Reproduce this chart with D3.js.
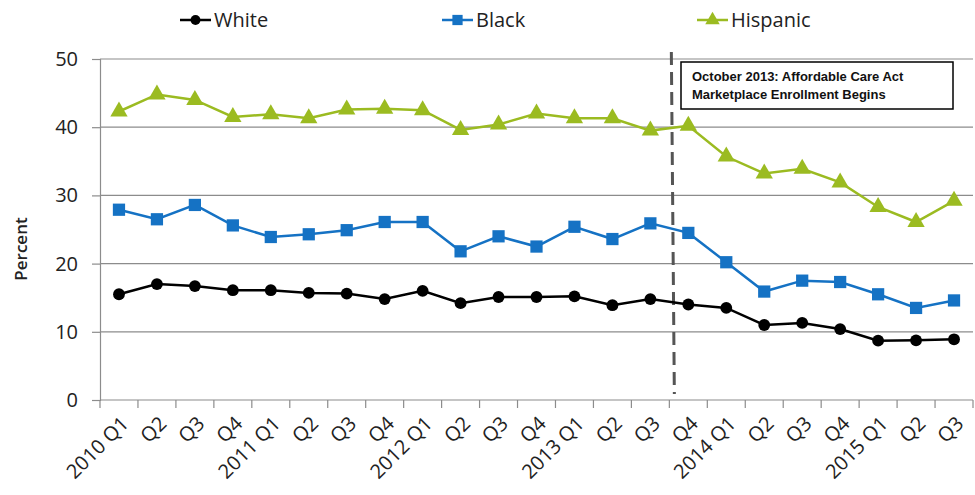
<!DOCTYPE html>
<html>
<head>
<meta charset="utf-8">
<script src="https://cdn.jsdelivr.net/npm/d3@7"></script>
<style>
  body { margin: 0; background: #fff; }
  svg { display: block; font-family: "Open Sans", "Noto Sans", sans-serif; }
</style>
</head>
<body>
<svg width="975" height="495"></svg>
<script>
// quarters, 2010 Q1 .. 2015 Q3
const quarters = [
  '2010 Q1', 'Q2', 'Q3', 'Q4',
  '2011 Q1', 'Q2', 'Q3', 'Q4',
  '2012 Q1', 'Q2', 'Q3', 'Q4',
  '2013 Q1', 'Q2', 'Q3', 'Q4',
  '2014 Q1', 'Q2', 'Q3', 'Q4',
  '2015 Q1', 'Q2', 'Q3'
];

const white = [15.5, 17.0, 16.7, 16.1, 16.1, 15.7, 15.6, 14.8, 16.0, 14.2, 15.1, 15.1,
  15.2, 13.9, 14.8, 14.0, 13.5, 11.0, 11.3, 10.4, 8.7, 8.75, 8.9];
const black = [27.9, 26.5, 28.6, 25.6, 23.9, 24.3, 24.9, 26.1, 26.1, 21.8, 24.0, 22.5,
  25.4, 23.6, 25.9, 24.5, 20.2, 15.9, 17.5, 17.3, 15.5, 13.5, 14.6];
const hispanic = [42.3, 44.8, 44.0, 41.5, 41.9, 41.3, 42.6, 42.7, 42.5, 39.6, 40.4, 42.0,
  41.3, 41.3, 39.5, 40.2, 35.7, 33.2, 33.9, 31.9, 28.3, 26.1, 29.2];

const yTicks = [0, 10, 20, 30, 40, 50];
const aca = {index: 15, lines: ['October 2013: Affordable Care Act', 'Marketplace Enrollment Begins']};

const series = [
  {name: 'White', values: white, color: '#000000', symbol: d3.symbolCircle, size: 110},
  {name: 'Black', values: black, color: '#1572c4', symbol: d3.symbolSquare, size: 150},
  {name: 'Hispanic', values: hispanic, color: '#9bbb21', symbol: d3.symbolTriangle, size: 130}
];

const margin = {top: 59, right: 2, bottom: 95, left: 100};
const width = 975, height = 495;
const svg = d3.select('svg');

const x = d3.scaleBand()
  .domain(d3.range(quarters.length))
  .range([margin.left, width - margin.right]);

const y = d3.scaleLinear()
  .domain([0, 50])
  .range([height - margin.bottom, margin.top]);

// gridlines
svg.append('g')
  .selectAll('line')
  .data(yTicks.slice(1))
  .join('line')
  .attr('x1', margin.left).attr('x2', width - margin.right)
  .attr('y1', d => y(d)).attr('y2', d => y(d))
  .attr('stroke', '#8c8c8c').attr('stroke-width', 1.2);

// y axis
const yAxis = svg.append('g')
  .attr('transform', `translate(${margin.left},0)`)
  .call(d3.axisLeft(y).tickValues(yTicks).tickSize(8).tickPadding(14));
yAxis.select('.domain').attr('stroke', '#8c8c8c').attr('stroke-width', 1.2);
yAxis.selectAll('.tick line').attr('stroke', '#8c8c8c').attr('stroke-width', 1.2);
yAxis.selectAll('.tick text')
  .attr('font-size', 20).attr('fill', '#222')
  .attr('font-family', '"Open Sans", sans-serif');

// x axis: ticks between the quarters
const xAxisY = y(0);
svg.append('line')
  .attr('x1', margin.left).attr('x2', width - margin.right)
  .attr('y1', xAxisY).attr('y2', xAxisY)
  .attr('stroke', '#8c8c8c').attr('stroke-width', 1.2);
svg.append('g')
  .selectAll('line')
  .data(d3.range(quarters.length + 1))
  .join('line')
  .attr('x1', i => i < quarters.length ? x(i) : x.range()[1])
  .attr('x2', i => i < quarters.length ? x(i) : x.range()[1])
  .attr('y1', xAxisY).attr('y2', xAxisY + 8)
  .attr('stroke', '#8c8c8c').attr('stroke-width', 1.2);

svg.append('g')
  .selectAll('text')
  .data(quarters)
  .join('text')
  .attr('transform', (d, i) => `translate(${x(i) + x.bandwidth() / 2 + 1},${xAxisY + 15}) rotate(-45)`)
  .attr('text-anchor', 'end')
  .attr('dy', '0.7em')
  .attr('font-size', 20)
  .attr('fill', '#222')
  .text(d => d);

// y label
svg.append('text')
  .attr('transform', `translate(27,249) rotate(-90)`)
  .attr('text-anchor', 'middle')
  .attr('font-size', 17)
  .attr('font-weight', 600)
  .attr('fill', '#222')
  .text('Percent');

// ACA dashed line
const acaX = x(aca.index) + 2;
svg.append('line')
  .attr('x1', acaX).attr('x2', acaX + 3)
  .attr('y1', 52).attr('y2', 394)
  .attr('stroke', '#555').attr('stroke-width', 3)
  .attr('stroke-dasharray', '13,7');

// annotation box
const box = svg.append('g').attr('transform', 'translate(681,62)');
box.append('rect')
  .attr('width', 272).attr('height', 47)
  .attr('fill', '#fff').attr('stroke', '#000').attr('stroke-width', 1.5);
box.selectAll('text')
  .data(aca.lines)
  .join('text')
  .attr('x', 11)
  .attr('y', (d, i) => 19 + i * 18)
  .attr('font-family', '"Liberation Sans", Arial, sans-serif')
  .attr('font-weight', 'bold')
  .attr('font-size', 13)
  .attr('fill', '#111')
  .text(d => d);

// lines and markers
const line = d3.line()
  .x((d, i) => x(i) + x.bandwidth() / 2)
  .y(d => y(d));

series.forEach(s => {
  svg.append('path')
    .datum(s.values)
    .attr('d', line)
    .attr('fill', 'none')
    .attr('stroke', s.color)
    .attr('stroke-width', 2.5);

  svg.append('g')
    .selectAll('path')
    .data(s.values)
    .join('path')
    .attr('transform', (d, i) => `translate(${x(i) + x.bandwidth() / 2},${y(d)})`)
    .attr('d', d3.symbol(s.symbol, s.size))
    .attr('fill', s.color);
});

// legend
const legendX = [180, 442, 697];
const legend = svg.append('g')
  .selectAll('g')
  .data(series)
  .join('g')
  .attr('transform', (d, i) => `translate(${legendX[i]},20)`);
legend.append('line')
  .attr('x1', 0).attr('x2', 31)
  .attr('stroke', d => d.color).attr('stroke-width', 2.5);
legend.append('path')
  .attr('transform', 'translate(15.5,0)')
  .attr('d', d => d3.symbol(d.symbol, d.size * 0.7)())
  .attr('fill', d => d.color);
legend.append('text')
  .attr('x', 34)
  .attr('dy', '0.35em')
  .attr('font-size', 20)
  .attr('fill', '#222')
  .text(d => d.name);
</script>
</body>
</html>
